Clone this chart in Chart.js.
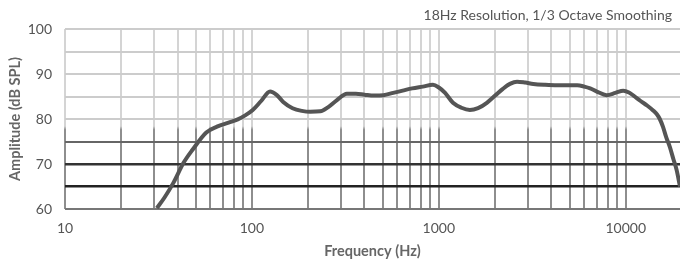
<!DOCTYPE html>
<html>
<head>
<meta charset="utf-8">
<script src="https://cdn.jsdelivr.net/npm/chart.js@4/dist/chart.umd.min.js"></script>
<style>
  html, body { margin: 0; padding: 0; background: #fff; overflow: hidden; }
  #wrap { width: 680px; height: 269px; }
</style>
</head>
<body>
<div id="wrap"><canvas id="c" width="680" height="269"></canvas></div>
<script>
const freqHz = [31, 34, 38, 43, 48, 57, 65, 75, 84, 92, 101, 112, 125, 136, 147, 165, 185, 205, 232, 255, 285, 322, 360, 400, 450, 505, 570, 640, 720, 820, 930, 1000, 1080, 1190, 1320, 1465, 1620, 1806, 2000, 2200, 2400, 2620, 2900, 3200, 3700, 4300, 5000, 5500, 6000, 6450, 7000, 7900, 8800, 9700, 10400, 11000, 12000, 13000, 14000, 14700, 15200, 15800, 16500, 17200, 18000, 18700, 19500];
const splDb  = [60.2, 62.5, 65.8, 70.2, 73.1, 77.0, 78.3, 79.2, 79.9, 80.8, 82.0, 84.0, 86.1, 85.3, 83.8, 82.4, 81.8, 81.6, 81.7, 82.6, 84.2, 85.6, 85.6, 85.4, 85.2, 85.3, 85.8, 86.3, 86.8, 87.2, 87.6, 87.0, 85.8, 83.6, 82.5, 82.0, 82.4, 83.6, 85.2, 86.7, 87.8, 88.3, 88.1, 87.8, 87.6, 87.5, 87.5, 87.5, 87.2, 86.8, 86.1, 85.3, 85.8, 86.3, 85.9, 85.2, 84.0, 83.0, 81.9, 81.0, 80.0, 78.3, 75.8, 73.8, 71.0, 68.7, 65.0];

// Vertical grid positions (Hz) and which of them carry a label
const gridFreqs = [10, 20, 30, 40, 50, 60, 70, 80, 90, 100, 200, 300, 400, 500, 600, 700, 800, 900, 1000, 2000, 3000, 4000, 5000, 6000, 7000, 8000, 9000, 10000];
const labeledFreqs = [10, 100, 1000, 10000];
// Y axis
const yTicks = [60, 65, 70, 75, 80, 85, 90, 95, 100];
const yLabeled = [60, 70, 80, 90, 100];

const chartTitle = '18Hz Resolution, 1/3 Octave Smoothing';
const xTitle = 'Frequency (Hz)';
const yTitle = 'Amplitude (dB SPL)';

const points = freqHz.map((f, i) => ({ x: f, y: splDb[i] }));

const titlePlugin = {
  id: 'cornerTitle',
  afterDraw(chart) {
    const c = chart.ctx;
    c.save();
    c.font = '14px Lato';
    c.fillStyle = '#555';
    c.textAlign = 'right';
    c.textBaseline = 'middle';
    c.fillText(chartTitle, 672, 15);
    c.restore();
  }
};

function vGridColor(ctx) {
  const ca = ctx.chart.chartArea;
  if (!ca) return '#c8c8c8';
  const g = ctx.chart.ctx.createLinearGradient(0, ca.top, 0, ca.bottom);
  g.addColorStop(0, '#d4d4d4');
  g.addColorStop(0.54, '#d4d4d4');
  g.addColorStop(0.56, '#8e8e8e');
  g.addColorStop(1, '#8e8e8e');
  return g;
}

const hColor = { 60: '#777', 65: '#222', 70: '#333', 75: '#666' };
const hWidth = { 60: 2, 65: 2.5, 70: 2.5, 75: 2 };

new Chart(document.getElementById('c'), {
  type: 'line',
  data: {
    datasets: [{
      data: points,
      borderColor: '#555',
      borderWidth: 4,
      pointRadius: 0,
      cubicInterpolationMode: 'monotone',
      fill: false
    }]
  },
  options: {
    responsive: false,
    animation: false,
    layout: { padding: { top: 29, right: 0, left: 0, bottom: 0 } },
    plugins: { legend: { display: false }, tooltip: { enabled: false }, title: { display: false } },
    scales: {
      x: {
        type: 'logarithmic',
        min: 10,
        max: 19500,
        afterBuildTicks: (s) => { s.ticks = gridFreqs.map(v => ({ value: v })); },
        afterFit: (s) => { s.height = 60; },
        border: { display: false },
        grid: { color: vGridColor, lineWidth: 2, drawTicks: false },
        ticks: {
          autoSkip: false,
          maxRotation: 0,
          padding: 11,
          color: '#555',
          font: { family: 'Lato', size: 14 },
          callback: (v) => labeledFreqs.includes(v) ? String(v) : ''
        },
        title: {
          display: true,
          text: xTitle,
          color: '#666',
          font: { family: 'Lato', size: 14.5, weight: 'bold' },
          padding: { top: 0, bottom: 9 }
        }
      },
      y: {
        min: 60,
        max: 100,
        afterBuildTicks: (s) => { s.ticks = yTicks.map(v => ({ value: v })); },
        afterFit: (s) => { s.width = 65; },
        border: { display: false },
        grid: {
          color: (ctx) => hColor[ctx.tick && ctx.tick.value] || '#cccccc',
          lineWidth: (ctx) => hWidth[ctx.tick && ctx.tick.value] || 2,
          drawTicks: false
        },
        ticks: {
          autoSkip: false,
          padding: 13,
          color: '#555',
          font: { family: 'Lato', size: 14 },
          callback: (v) => yLabeled.includes(v) ? String(v) : ''
        },
        title: {
          display: true,
          text: yTitle,
          color: '#666',
          font: { family: 'Lato', size: 14.5, weight: 'bold' },
          padding: { top: 7, bottom: 0 }
        }
      }
    }
  },
  plugins: [titlePlugin]
});
</script>
</body>
</html>
